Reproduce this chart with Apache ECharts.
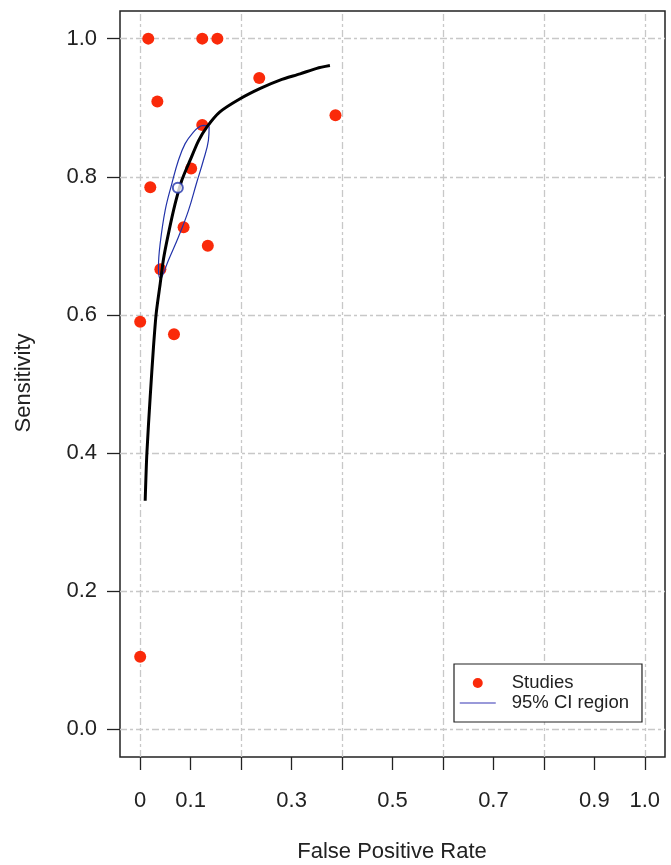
<!DOCTYPE html>
<html>
<head>
<meta charset="utf-8">
<script src="https://cdn.jsdelivr.net/npm/echarts@6/dist/echarts.min.js"></script>
<style>
  html, body { margin: 0; padding: 0; background: #fff; }
  #myChart { width: 671px; height: 865px; }
</style>
</head>
<body>
<div id="myChart"></div>
<script>
  // studies: [false positive rate, sensitivity]
  let studies = [
    [0.016, 1.0], [0.123, 1.0], [0.153, 1.0], [0.236, 0.943], [0.034, 0.909],
    [0.387, 0.889], [0.123, 0.875], [0.101, 0.812], [0.020, 0.785], [0.086, 0.727],
    [0.134, 0.700], [0.040, 0.666], [0.000, 0.590], [0.067, 0.572], [0.000, 0.105]
  ];
  // summary curve
  let srocCurve = [
    [0.0099, 0.331], [0.0132, 0.399], [0.0198, 0.481], [0.0264, 0.554], [0.0317, 0.602],
    [0.0396, 0.645], [0.0462, 0.681], [0.0561, 0.718], [0.0693, 0.761], [0.0825, 0.795],
    [0.099, 0.824], [0.1155, 0.852], [0.132, 0.872], [0.158, 0.894], [0.198, 0.913],
    [0.238, 0.928], [0.277, 0.940], [0.317, 0.949], [0.350, 0.957], [0.376, 0.961]
  ];
  // 95% confidence region outline
  let ciRegion = [
    [0.1253, 0.8745], [0.1366, 0.8721], [0.1352, 0.8528], [0.1253, 0.8239], [0.1123, 0.7925],
    [0.0956, 0.7510], [0.0758, 0.7129], [0.0560, 0.6792], [0.0430, 0.6550], [0.0396, 0.6527],
    [0.0362, 0.6695], [0.0396, 0.7033], [0.0495, 0.7515], [0.0628, 0.7902], [0.0758, 0.8239],
    [0.0891, 0.8480], [0.1055, 0.8648], [0.1188, 0.8731], [0.1253, 0.8745]
  ];
  let summaryPoint = [[0.0746, 0.784]];

  let xTicks = [0, 0.1, 0.2, 0.3, 0.4, 0.5, 0.6, 0.7, 0.8, 0.9, 1.0];
  let xTickLabels = [0, 0.1, 0.3, 0.5, 0.7, 0.9, 1.0];
  let yTicks = [0, 0.2, 0.4, 0.6, 0.8, 1.0];
  let gridLinesX = [0, 0.2, 0.4, 0.6, 0.8, 1.0];
  let gridLinesY = [0, 0.2, 0.4, 0.6, 0.8, 1.0];

  let fontFam = '"Liberation Sans", Arial, sans-serif';
  let myChart = echarts.init(document.getElementById('myChart'));

  myChart.setOption({
    animation: false,
    grid: {
      left: 120, right: 6, top: 11, bottom: 108,
      show: true, borderColor: '#222', borderWidth: 1.5, backgroundColor: '#fff'
    },
    xAxis: {
      type: 'value', min: -0.04, max: 1.04,
      axisLine: { show: false, onZero: false },
      splitLine: { show: false },
      axisTick: { show: true, length: 13, customValues: xTicks, lineStyle: { color: '#222', width: 1.3 } },
      axisLabel: {
        customValues: xTickLabels, margin: 33, color: '#222', fontSize: 22, fontFamily: fontFam,
        formatter: function (v) { return v === 0 ? '0' : v.toFixed(1); }
      }
    },
    yAxis: {
      type: 'value', min: -0.04, max: 1.04,
      axisLine: { show: false, onZero: false },
      splitLine: { show: false },
      axisTick: { show: true, length: 13, customValues: yTicks, lineStyle: { color: '#222', width: 1.3 } },
      axisLabel: {
        customValues: yTicks, margin: 23, color: '#222', fontSize: 22, fontFamily: fontFam,
        formatter: function (v) { return v.toFixed(1); }
      }
    },
    legend: {
      orient: 'vertical', left: 454, top: 664,
      padding: [9, 13, 9, 5], itemGap: 0,
      itemWidth: 36, itemHeight: 10,
      borderColor: '#222', borderWidth: 1.2, backgroundColor: '#fff',
      textStyle: { fontSize: 18.5, fontFamily: fontFam, color: '#222', lineHeight: 20, padding: [0, 0, 0, 11] },
      data: [
        { name: 'Studies', icon: 'circle' },
        {
          name: '95% CI region',
          lineStyle: { color: '#7777cc', width: 1.5 },
          itemStyle: { opacity: 0, borderWidth: 0 }
        }
      ]
    },
    graphic: [
      {
        type: 'text', x: 392, y: 852,
        style: { text: 'False Positive Rate', font: '22px ' + fontFam, fill: '#222', align: 'center', verticalAlign: 'middle' }
      },
      {
        type: 'text', x: 24, y: 383, rotation: Math.PI / 2,
        style: { text: 'Sensitivity', font: '22px ' + fontFam, fill: '#222', align: 'center', verticalAlign: 'middle' }
      }
    ],
    series: [
      {
        name: 'gridlines', type: 'scatter', data: [], silent: true, z: 1,
        markLine: {
          z: 1, silent: true, symbol: 'none', label: { show: false }, animation: false,
          lineStyle: { color: '#c8c8c8', width: 1.3, type: [7, 3, 3, 3] },
          data: gridLinesX.map(v => ({ xAxis: v })).concat(gridLinesY.map(v => ({ yAxis: v })))
        }
      },
      {
        name: 'Studies', type: 'scatter', data: studies, z: 3,
        symbol: 'circle', symbolSize: 12,
        itemStyle: { color: '#fa2a0a', opacity: 1 }
      },
      {
        name: '95% CI region', type: 'line', data: ciRegion, z: 4,
        showSymbol: false, symbol: 'none', smooth: 0.4,
        lineStyle: { color: '#2233aa', width: 1.2 },
        itemStyle: { color: '#7777cc' }
      },
      {
        name: 'SROC', type: 'line', data: srocCurve, z: 5,
        showSymbol: false, symbol: 'none', smooth: 0.25,
        lineStyle: { color: '#000', width: 3 }
      },
      {
        name: 'Summary', type: 'scatter', data: summaryPoint, z: 6,
        symbol: 'emptyCircle', symbolSize: 10,
        itemStyle: { color: '#2233aa', borderColor: '#2233aa', borderWidth: 1.3 }
      }
    ]
  });
</script>
</body>
</html>
